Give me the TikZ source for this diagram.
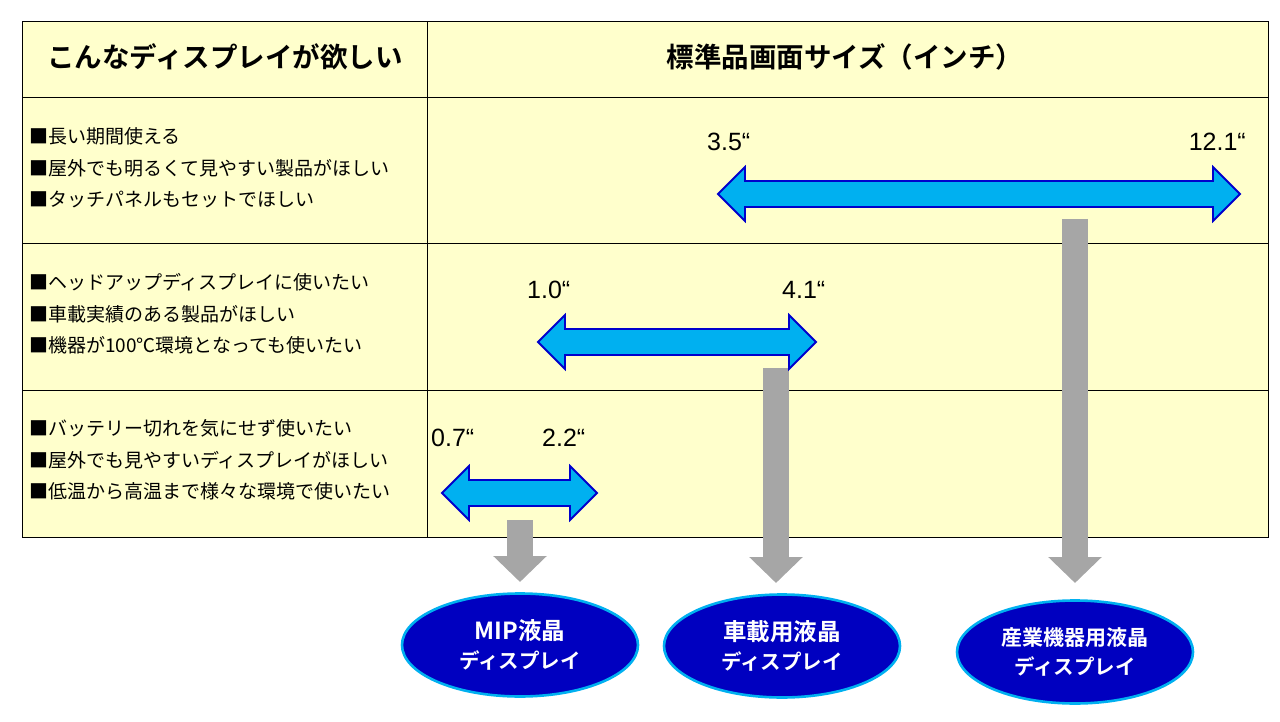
\documentclass[tikz,border=0pt]{standalone}
\usepackage{fontspec}
\setmainfont{Noto Sans CJK JP}[BoldFont={Noto Sans CJK JP Bold}]
\newfontfamily\numfont{Liberation Sans}
\usetikzlibrary{shapes.geometric,arrows.meta}
\definecolor{cellyellow}{HTML}{FFFFCC}
\definecolor{arrowfill}{HTML}{00B0F0}
\definecolor{arrowedge}{HTML}{0000CC}
\definecolor{ovalfill}{HTML}{0000C0}
\definecolor{ovaledge}{HTML}{00B0F0}
\definecolor{greyarrow}{HTML}{A6A6A6}
\tikzset{
  gridline/.style={draw=black, line width=1pt},
  headtext/.style={font=\fontsize{27.5}{30}\selectfont\bfseries, inner sep=0pt},
  celltext/.style={font=\fontsize{19}{31.5}\selectfont, align=left, anchor=west, inner sep=0pt},
  numtext/.style={font=\numfont\fontsize{25}{28}\selectfont, inner sep=0pt},
  dblarr/.style={fill=arrowfill, draw=arrowedge, line width=1.8pt, line join=miter},
  downarr/.style={draw=greyarrow, line width=26pt, -{Triangle[length=26pt,width=52pt]}},
  oval/.style={ellipse, fill=ovalfill, draw=ovaledge, line width=2.6pt, minimum width=236pt,
    minimum height=103pt, inner sep=0pt, text=white, align=center,
    font=\fontsize{20.5}{29}\selectfont\bfseries},
}
\newcommand\ovalbig{\fontsize{23.5}{29}\selectfont}
\newcommand\ovalmid{\fontsize{21}{29}\selectfont}
\newcommand\dblarrow[3]{%
  \draw[dblarr] (#1,#3) -- (#1+27,#3-27) -- (#1+27,#3-13) -- (#2-27,#3-13) -- (#2-27,#3-27)
    -- (#2,#3) -- (#2-27,#3+27) -- (#2-27,#3+13) -- (#1+27,#3+13) -- (#1+27,#3+27) -- cycle;}
\begin{document}
\begin{tikzpicture}[x=1pt,y=-1pt]
\useasboundingbox (0,0) rectangle (1280,722);
% table
\fill[cellyellow] (22,22) rectangle (1268,537);
\draw[gridline] (22,22) rectangle (1268,537);
\draw[gridline] (427,22) -- (427,537);
\draw[gridline] (22,98) -- (1268,98);
\draw[gridline] (22,244) -- (1268,244);
\draw[gridline] (22,390) -- (1268,390);
% headers
\node[headtext] (h1) at (225,57) {こんなディスプレイが欲しい};
\node[headtext] (h2) at (845,57) {標準品画面サイズ（インチ）};
% cell texts
\node[celltext] (r1) at (29,168) {■長い期間使える\\■屋外でも明るくて見やすい製品がほしい\\■タッチパネルもセットでほしい};
\node[celltext] (r2) at (29,314) {■ヘッドアップディスプレイに使いたい\\■車載実績のある製品がほしい\\■機器が100℃環境となっても使いたい};
\node[celltext] (r3) at (29,460) {■バッテリー切れを気にせず使いたい\\■屋外でも見やすいディスプレイがほしい\\■低温から高温まで様々な環境で使いたい};
% grey arrows (drawn first, under the range arrows)
\coordinate (g1s) at (520,520); \coordinate (g1e) at (520,582);
\coordinate (g2s) at (776,368); \coordinate (g2e) at (776,583);
\coordinate (g3s) at (1075,219); \coordinate (g3e) at (1075,583);
\draw[downarr] (g1s) -- (g1e);
\draw[downarr] (g2s) -- (g2e);
\draw[downarr] (g3s) -- (g3e);
% range arrows
\dblarrow{718}{1240}{194}
\dblarrow{538}{816}{342}
\dblarrow{442}{597}{493}
% size labels
\node[numtext, anchor=west] (n1) at (707,142) {3.5“};
\node[numtext, anchor=east] (n2) at (1246,142) {12.1“};
\node[numtext, anchor=west] (n3) at (527,290) {1.0“};
\node[numtext, anchor=west] (n4) at (782,290) {4.1“};
\node[numtext, anchor=west] (n5) at (431,438) {0.7“};
\node[numtext, anchor=west] (n6) at (542,438) {2.2“};
% ovals
\node[oval] (mip) at (520,645) {{\ovalbig MIP液晶}\\ディスプレイ};
\node[oval] (car) at (782,646) {{\ovalbig 車載用液晶}\\ディスプレイ};
\node[oval] (ind) at (1075,652) {{\ovalmid 産業機器用液晶}\\ディスプレイ};
\end{tikzpicture}
\end{document}
